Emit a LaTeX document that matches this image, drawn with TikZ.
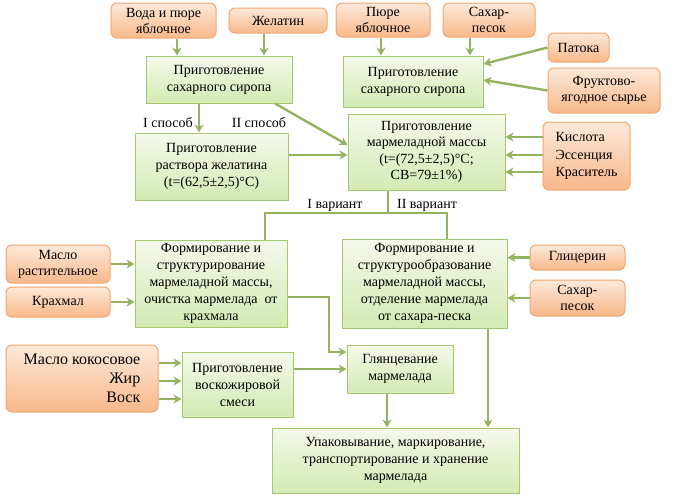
\documentclass[tikz,border=0pt]{standalone}
\usepackage{fontspec}
\setmainfont{Liberation Serif}
\usepackage{tikz}
\usetikzlibrary{arrows.meta, positioning, calc, shadows}
\definecolor{rawtop}{RGB}{253,233,218}
\definecolor{rawbot}{RGB}{248,184,138}
\definecolor{rawline}{RGB}{240,166,112}
\definecolor{stagetop}{RGB}{244,249,234}
\definecolor{stagebot}{RGB}{212,234,180}
\definecolor{stageline}{RGB}{165,199,112}
\definecolor{flow}{RGB}{148,178,96}

\tikzset{
  raw/.style={draw=rawline, line width=1pt, rounded corners=6pt, top color=rawtop, bottom color=rawbot,
    inner sep=2pt, align=center, font=\fontsize{14}{16}\selectfont},
  stage/.style={draw=stageline, line width=1pt, top color=stagetop, bottom color=stagebot,
    inner sep=2pt, align=center, font=\fontsize{14}{17}\selectfont},
  arr/.style={draw=flow, line width=2.4pt, -{Stealth[length=8pt,width=9pt]}},
  line/.style={draw=flow, line width=2.4pt},
  lbl/.style={font=\fontsize{14}{16}\selectfont, inner sep=0pt}
}

\begin{document}
\begin{tikzpicture}[x=1pt, y=-1pt]
  \useasboundingbox (0,0) rectangle (676,501);

  % Raw materials
  \node[raw, minimum width=105pt, minimum height=35pt] (water) at (163.5,20.5) {Вода и пюре\\яблочное};
  \node[raw, minimum width=98pt, minimum height=25pt] (gel) at (278,20.5) {Желатин};
  \node[raw, minimum width=94pt, minimum height=34pt] (puree) at (383,20) {Пюре\\яблочное};
  \node[raw, minimum width=92pt, minimum height=34pt] (sugar) at (489,20) {Сахар-\\песок};
  \node[raw, minimum width=61pt, minimum height=29pt] (patoka) at (578.5,47.5) {Патока};
  \node[raw, minimum width=112pt, minimum height=45pt] (fruit) at (604,90.5) {Фруктово-\\ягодное сырье};
  \node[raw, minimum width=87pt, minimum height=68pt, align=left, font=\fontsize{14}{17.5}\selectfont] (acid) at (586.5,156) {Кислота\\Эссенция\\Краситель};
  \node[raw, minimum width=104pt, minimum height=38pt] (oil) at (58,264) {Масло\\растительное};
  \node[raw, minimum width=104pt, minimum height=30pt] (starch) at (58,302) {Крахмал};
  \node[raw, minimum width=95pt, minimum height=25pt] (glyc) at (577.5,257.5) {Глицерин};
  \node[raw, minimum width=95pt, minimum height=36pt] (sand) at (577.5,298) {Сахар-\\песок};
  \node[raw, minimum width=152pt, minimum height=67pt, align=right, inner xsep=9pt,
    font=\fontsize{16}{19}\selectfont] (fats) at (82,378.5) {Масло кокосовое\\Жир\\Воск};

  % Stages
  \node[stage, minimum width=146pt, minimum height=47pt] (syrupA) at (219,79.5) {Приготовление\\сахарного сиропа};
  \node[stage, minimum width=140pt, minimum height=51pt] (syrupB) at (413,81.5) {Приготовление\\сахарного сиропа};
  \node[stage, minimum width=153pt, minimum height=67pt] (gelsol) at (211.5,166.5) {Приготовление\\раствора желатина\\(t=(62,5±2,5)°C)};
  \node[stage, minimum width=157pt, minimum height=76pt, font=\fontsize{14}{16.5}\selectfont] (mass) at (426.5,152) {Приготовление\\мармеладной массы\\(t=(72,5±2,5)°C;\\СВ=79±1\%)};
  \node[stage, minimum width=152pt, minimum height=87pt] (formA) at (211,283.5) {Формирование и\\структурирование\\мармеладной массы,\\очистка мармелада~ от\\крахмала};
  \node[stage, minimum width=165pt, minimum height=89pt] (formB) at (424.5,283.5) {Формирование и\\структурообразование\\мармеладной массы,\\отделение мармелада\\от сахара-песка};
  \node[stage, minimum width=111pt, minimum height=65pt] (wax) at (237.5,384.5) {Приготовление\\воскожировой\\смеси};
  \node[stage, minimum width=106pt, minimum height=48pt] (glaze) at (400,369) {Глянцевание\\мармелада};
  \node[stage, minimum width=247pt, minimum height=65pt] (pack) at (395.5,460.5) {Упаковывание, маркирование,\\транспортирование и хранение\\мармелада};

  % Labels
  \node[lbl] (way1) at (168,123) {I способ};
  \node[lbl] (way2) at (259,123) {II способ};
  \node[lbl] (var1) at (335,205) {I вариант};
  \node[lbl] (var2) at (427,205) {II вариант};
  \coordinate (fork) at (388,213);

  % Upper part
  \draw[arr] (water.south -| 177,0) -- (syrupA.north -| 177,0);
  \draw[arr] (gel.south -| 264,0) -- (syrupA.north -| 264,0);
  \draw[arr] (syrupA.south -| 199,0) -- (gelsol.north -| 199,0);
  \draw[arr] (syrupA.south -| 275,0) -- (mass.west |- 0,145);
  \draw[arr] (gelsol.east |- 0,155) -- (mass.west |- 0,155);
  \draw[arr] (puree.south -| 381,0) -- (syrupB.north -| 381,0);
  \draw[arr] (sugar.south -| 470,0) -- (syrupB.north -| 470,0);
  \draw[arr] (patoka.west) -- (syrupB.east |- 0,64);
  \draw[arr] (fruit.west) -- (syrupB.east |- 0,80);
  \foreach \y in {137,155,172}
    \draw[arr] (acid.west |- 0,\y) -- (mass.east |- 0,\y);

  % Variants
  \draw[line] (mass.south -| fork) -- (fork) -| (formA.north -| 265,0);
  \draw[line] (fork) -| (formB.north -| 447,0);
  \draw[arr] (oil.east) -- (formA.west |- oil.east);
  \draw[arr] (starch.east) -- (formA.west |- starch.east);
  \draw[arr] (glyc.west) -- (formB.east |- glyc.west);
  \draw[arr] (sand.west) -- (formB.east |- sand.west);

  % Lower part
  \foreach \y in {363,381,399}
    \draw[arr] (fats.east |- 0,\y) -- (wax.west |- 0,\y);
  \draw[arr] (formA.east |- 0,297) -| (329,352) -- (glaze.west |- 0,352);
  \draw[arr] (wax.east |- 0,369) -- (glaze.west |- 0,369);
  \draw[arr] (glaze.south -| 387,0) -- (pack.north -| 387,0);
  \draw[arr] (formB.south -| 488,0) -- (pack.north -| 488,0);
\end{tikzpicture}
\end{document}
